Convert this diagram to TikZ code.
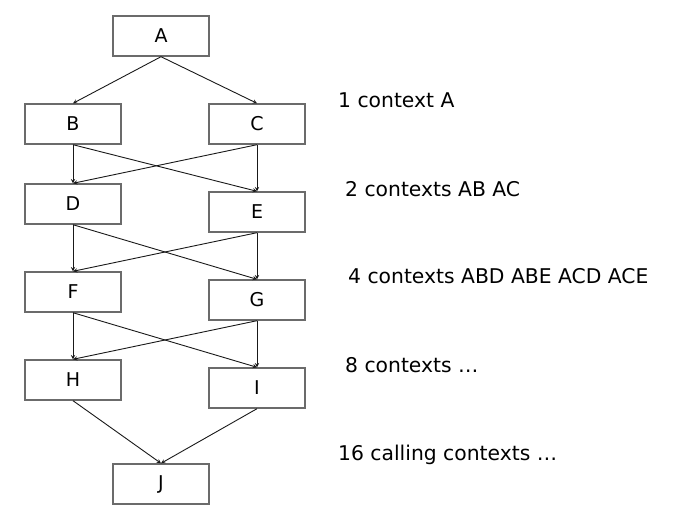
\documentclass[tikz,border=0pt]{standalone}
\usepackage{fontspec}
\setmainfont{DejaVu Sans}
\begin{document}
\begin{tikzpicture}[x=1pt,y=-1pt,line cap=butt,line join=miter,>=stealth]
				\tikzset{blk/.style={draw=black!58,line width=1.4pt,minimum width=96pt,minimum height=40pt,inner sep=0pt,font=\fontsize{19}{19}\selectfont},
						cnt/.style={anchor=base west,inner sep=0pt,font=\fontsize{20.3}{22}\selectfont},
						call/.style={->,line width=0.9pt,black!90}}
				\useasboundingbox (0,0) rectangle (682,516);
				\node[blk] (A) at (161,36) {A};
				\node[blk] (B) at (73,124) {B};
				\node[blk] (C) at (257,124) {C};
				\node[blk] (D) at (73,204) {D};
				\node[blk] (E) at (257,212) {E};
				\node[blk] (F) at (73,292) {F};
				\node[blk] (G) at (257,300) {G};
				\node[blk] (H) at (73,380) {H};
				\node[blk] (I) at (257,388) {I};
				\node[blk] (J) at (161,484) {J};
				\draw[call] (A.south)--(B.north);
				\draw[call] (A.south)--(C.north);
				\foreach \u/\v/\p/\q in {B/C/D/E,D/E/F/G,F/G/H/I}{
					\draw[call] (\u.south)--(\p.north);
					\draw[call] (\u.south)--(\q.north);
					\draw[call] (\v.south)--(\p.north);
					\draw[call] (\v.south)--(\q.north);
				}
				\draw[call] (H.south)--(J.north);
				\draw[call] (I.south)--(J.north);
				\node[cnt] (c1) at (338,108) {1 context A};
				\node[cnt] (c2) at (345,196) {2 contexts AB AC};
				\node[cnt] (c4) at (348,283) {4 contexts ABD ABE ACD ACE};
				\node[cnt] (c8) at (345,372) {8 contexts \dots};
				\node[cnt] (c16) at (338,460) {16 calling contexts \dots};
			\end{tikzpicture}
\end{document}
